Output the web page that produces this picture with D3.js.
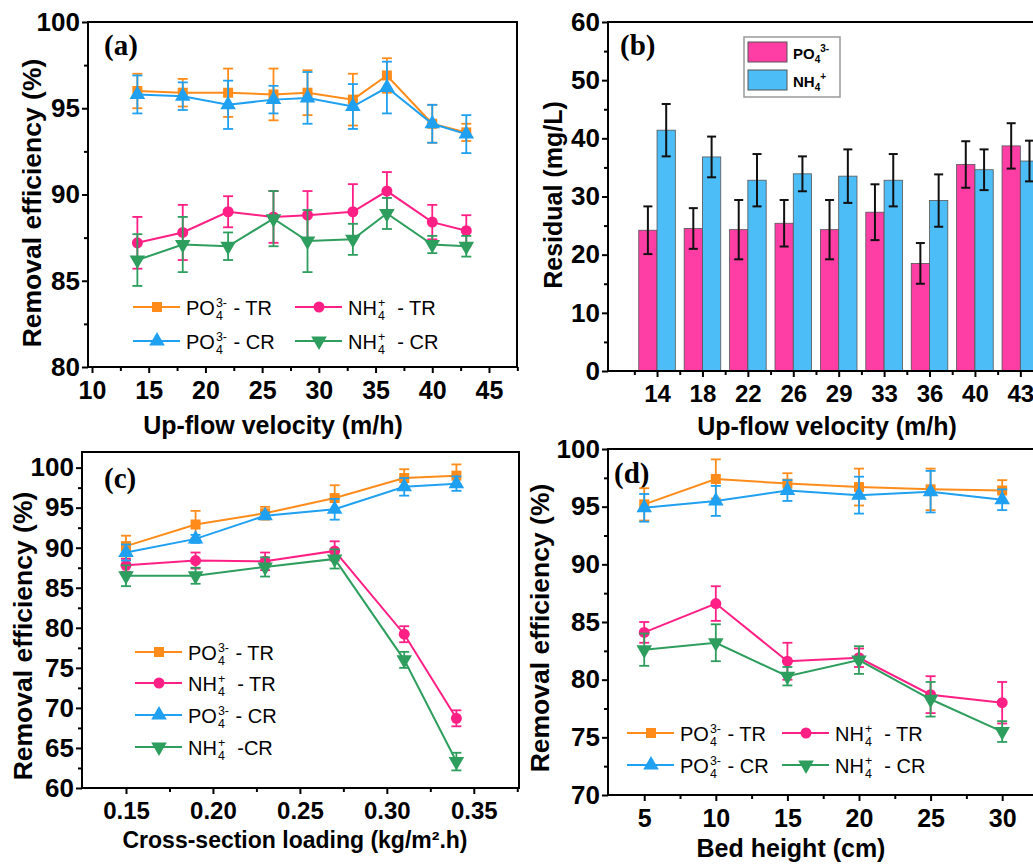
<!DOCTYPE html>
<html>
<head>
<meta charset="utf-8">
<script src="https://cdn.jsdelivr.net/npm/d3@7"></script>
<style>
  body { margin: 0; background: #fff; }
  svg { display: block; }
  text { white-space: pre; }
</style>
</head>
<body>
<svg id="chart" width="1033" height="864"></svg>
<script>
// ---- data ----
// (a) removal efficiency vs up-flow velocity
const velocity = [14, 18, 22, 26, 29, 33, 36, 40, 43];
const aPoTR = [96.0, 95.9, 95.9, 95.8, 95.9, 95.5, 96.9, 94.1, 93.6];
const aPoTRErr = [1.0, 0.8, 1.4, 1.5, 1.3, 1.5, 1.0, 1.1, 0.5];
const aNhTR = [87.2, 87.8, 89.0, 88.7, 88.8, 89.0, 90.2, 88.4, 87.9];
const aNhTRErr = [1.5, 1.6, 0.9, 1.5, 1.4, 1.6, 1.1, 1.0, 0.9];
const aPoCR = [95.8, 95.7, 95.2, 95.5, 95.6, 95.1, 96.2, 94.1, 93.5];
const aPoCRErr = [1.1, 0.8, 1.4, 0.8, 1.5, 1.3, 1.5, 1.1, 1.1];
const aNhCR = [86.2, 87.1, 87.0, 88.6, 87.3, 87.4, 88.9, 87.1, 87.0];
const aNhCRErr = [1.5, 1.6, 0.8, 1.6, 1.8, 0.9, 0.9, 0.5, 0.6];
const aXTicks = [10, 15, 20, 25, 30, 35, 40, 45];
const aYTicks = [80, 85, 90, 95, 100];

// (b) residual concentration
const bPo = [24.2, 24.5, 24.3, 25.4, 24.3, 27.3, 18.5, 35.5, 38.7];
const bPoErr = [4.1, 3.5, 5.1, 4.0, 5.1, 4.8, 3.5, 4.0, 3.9];
const bNh = [41.4, 36.8, 32.8, 33.9, 33.5, 32.8, 29.3, 34.6, 36.1];
const bNhErr = [4.5, 3.5, 4.5, 3.0, 4.6, 4.5, 4.5, 3.5, 3.5];
const bYTicks = [0, 10, 20, 30, 40, 50, 60];

// (c) removal efficiency vs cross-section loading
const loading = [0.15, 0.19, 0.23, 0.27, 0.31, 0.34];
const cPoTR = [90.2, 92.9, 94.3, 96.2, 98.7, 99.0];
const cPoTRErr = [1.3, 1.7, 0.8, 1.6, 1.1, 1.4];
const cNhTR = [87.8, 88.4, 88.3, 89.6, 79.2, 68.7];
const cNhTRErr = [0.8, 1.0, 1.1, 1.2, 1.0, 1.0];
const cPoCR = [89.4, 91.1, 94.0, 94.8, 97.6, 98.0];
const cPoCRErr = [1.0, 0.5, 0.4, 1.3, 1.1, 0.9];
const cNhCR = [86.5, 86.5, 87.6, 88.6, 76.0, 63.3];
const cNhCRErr = [1.3, 1.0, 1.2, 1.2, 1.0, 1.1];
const cXTicks = [0.15, 0.20, 0.25, 0.30, 0.35];
const cYTicks = [60, 65, 70, 75, 80, 85, 90, 95, 100];

// (d) removal efficiency vs bed height
const bedHeight = [5, 10, 15, 20, 25, 30];
const dPoTR = [95.2, 97.4, 97.0, 96.7, 96.5, 96.4];
const dPoTRErr = [1.4, 1.7, 0.9, 1.6, 1.8, 0.9];
const dNhTR = [84.1, 86.6, 81.6, 81.9, 78.7, 78.0];
const dNhTRErr = [0.9, 1.5, 1.6, 0.8, 1.6, 1.8];
const dPoCR = [94.9, 95.5, 96.4, 96.0, 96.3, 95.6];
const dPoCRErr = [1.2, 1.3, 0.9, 1.6, 1.8, 0.9];
const dNhCR = [82.6, 83.2, 80.3, 81.7, 78.3, 75.5];
const dNhCRErr = [1.4, 1.6, 0.8, 1.2, 1.5, 0.9];
const dXTicks = [5, 10, 15, 20, 25, 30];
const dYTicks = [70, 75, 80, 85, 90, 95, 100];

const FONT = "Arial, 'Liberation Sans', Helvetica, sans-serif";
const SERIF = "'Times New Roman', 'Liberation Serif', serif";
const ORANGE = '#FF8C1A', PINK = '#FF1F85', BLUE = '#1FA0F0', GREEN = '#2E9E5E';

const svg = d3.select('#chart');

function minorOf(ticks) {
    const step = ticks[1] - ticks[0];
    const out = [];
    for (let i = -1; i < ticks.length; i++) out.push(ticks[0] + (i + 0.5) * step);
    return out;
}

// axes + frame for one panel
function drawAxes(o, x, y) {
    const g = svg.append('g');
    const bottom = d3.axisBottom(x).tickValues(o.xTicks).tickFormat(o.xFormat)
        .tickSize(6).tickPadding(o.xPad).tickSizeOuter(0);
    const left = d3.axisLeft(y).tickValues(o.yTicks).tickFormat(d3.format('d'))
        .tickSize(6).tickPadding(2).tickSizeOuter(0);
    const xMinor = d3.axisBottom(x).tickValues(o.xMinor.filter(v => x(v) > o.left + 2 && x(v) < 1033))
        .tickFormat('').tickSize(4).tickSizeOuter(0);
    const yMinor = d3.axisLeft(y).tickValues(o.yMinor.filter(v => y(v) < o.bottom - 2 && y(v) > o.top + 2))
        .tickFormat('').tickSize(4).tickSizeOuter(0);

    [[bottom, 'x'], [xMinor, 'x'], [left, 'y'], [yMinor, 'y']].forEach(([ax, k]) => {
        const a = g.append('g')
            .attr('transform', k === 'x' ? `translate(0,${o.bottom})` : `translate(${o.left},0)`)
            .call(ax);
        a.select('.domain').remove();
        a.selectAll('line').attr('stroke', '#000').attr('stroke-width', 2);
        a.selectAll('text').attr('font-family', FONT).attr('font-weight', 'bold')
            .attr('font-size', k === 'x' ? (o.xTickFont || 25) : 26).attr('fill', '#000');
    });

    g.append('rect')
        .attr('x', o.left).attr('y', o.top)
        .attr('width', o.right - o.left).attr('height', o.bottom - o.top)
        .attr('fill', 'none').attr('stroke', '#000').attr('stroke-width', 2);

    svg.append('text')
        .attr('x', o.tagX).attr('y', o.tagY)
        .attr('font-family', SERIF).attr('font-weight', 'bold').attr('font-size', 29)
        .text(o.tag);

    svg.append('text')
        .attr('transform', `translate(${o.yLabelX},${o.yLabelY}) rotate(-90)`)
        .attr('text-anchor', 'middle')
        .attr('font-family', FONT).attr('font-weight', 'bold').attr('font-size', o.yLabelFont || 26.5)
        .text(o.yLabel);

    svg.append('text')
        .attr('x', o.xLabelX).attr('y', o.xLabelY)
        .attr('text-anchor', 'middle')
        .attr('font-family', FONT).attr('font-weight', 'bold').attr('font-size', o.xLabelFont || 25)
        .text(o.xLabel);
}

function symbolPath(kind, size) {
    if (kind === 'square') return d3.symbol(d3.symbolSquare, size)();
    if (kind === 'circle') return d3.symbol(d3.symbolCircle, size)();
    return d3.symbol(d3.symbolTriangle, size)();
}

function marker(g, kind, cx, cy, color) {
    const size = kind === 'square' ? 100 : kind === 'circle' ? 95 : 105;
    g.append('path')
        .attr('d', symbolPath(kind, size))
        .attr('transform', `translate(${cx},${cy})` + (kind === 'down' ? ' rotate(180)' : ''))
        .attr('fill', color);
}

// ion label like PO4(3-) with stacked sub/sup
function ionLabel(g, x, y, base, sub, sup, tail, size) {
    const t = g.append('text').attr('x', x).attr('y', y)
        .attr('font-family', FONT).attr('font-size', size).text(base);
    const w = t.node().getComputedTextLength();
    const s1 = g.append('text').attr('x', x + w + 1).attr('y', y + 5)
        .attr('font-family', FONT).attr('font-size', size * 0.62).text(sub);
    const s2 = g.append('text').attr('x', x + w + 1).attr('y', y - 8)
        .attr('font-family', FONT).attr('font-size', size * 0.62).text(sup);
    const sw = Math.max(s1.node().getComputedTextLength(), s2.node().getComputedTextLength());
    g.append('text').attr('x', x + w + 2 + sw).attr('y', y)
        .attr('font-family', FONT).attr('font-size', size).text(tail);
}

function linePanel(o) {
    const x = d3.scaleLinear().domain(o.xDomain).range([o.left, o.right]);
    const y = d3.scaleLinear().domain(o.yDomain).range([o.bottom, o.top]);
    drawAxes(o, x, y);

    const line = d3.line().x(d => x(d[0])).y(d => y(d[1]));
    o.series.forEach(s => {
        const g = svg.append('g');
        const pts = o.xs.map((v, i) => [v, s.vals[i], s.errs[i]]);
        g.append('path').datum(pts).attr('d', line)
            .attr('fill', 'none').attr('stroke', s.color).attr('stroke-width', 2);
        pts.forEach(p => {
            const cx = x(p[0]);
            g.append('line').attr('x1', cx).attr('x2', cx)
                .attr('y1', y(p[1] - p[2])).attr('y2', y(p[1] + p[2]))
                .attr('stroke', s.color).attr('stroke-width', 1.8);
            [p[1] - p[2], p[1] + p[2]].forEach(v => {
                g.append('line').attr('x1', cx - 5).attr('x2', cx + 5)
                    .attr('y1', y(v)).attr('y2', y(v))
                    .attr('stroke', s.color).attr('stroke-width', 1.8);
            });
            marker(g, s.symbol, cx, y(p[1]), s.color);
        });
    });

    // legend
    const lg = svg.append('g');
    o.legend.forEach((L, i) => {
        const s = o.series[L.idx];
        lg.append('line').attr('x1', L.x).attr('x2', L.x + 47).attr('y1', L.y).attr('y2', L.y)
            .attr('stroke', s.color).attr('stroke-width', 2);
        marker(lg, s.symbol, L.x + 24, L.y, s.color);
        ionLabel(lg, L.x + 53, L.y + 8, L.base, '4', L.sup, L.tail, 20);
    });
}

// ---- panel (a) ----
linePanel({
    left: 88, right: 517, top: 22, bottom: 367,
    xDomain: [9.647, 47.47], yDomain: [80, 100],
    xTicks: aXTicks, xMinor: minorOf(aXTicks), yTicks: aYTicks, yMinor: minorOf(aYTicks),
    xFormat: d3.format('d'), xPad: 8,
    xs: velocity,
    series: [
        { vals: aPoTR, errs: aPoTRErr, color: ORANGE, symbol: 'square' },
        { vals: aNhTR, errs: aNhTRErr, color: PINK, symbol: 'circle' },
        { vals: aPoCR, errs: aPoCRErr, color: BLUE, symbol: 'up' },
        { vals: aNhCR, errs: aNhCRErr, color: GREEN, symbol: 'down' }
    ],
    legend: [
        { idx: 0, x: 133, y: 307, base: 'PO', sup: '3-', tail: ' - TR' },
        { idx: 1, x: 295, y: 307, base: 'NH', sup: '+', tail: '  - TR' },
        { idx: 2, x: 133, y: 341, base: 'PO', sup: '3-', tail: ' - CR' },
        { idx: 3, x: 295, y: 341, base: 'NH', sup: '+', tail: '  - CR' }
    ],
    tag: '(a)', tagX: 104, tagY: 55,
    yLabel: 'Removal efficiency (%)', yLabelX: 41, yLabelY: 203,
    xLabel: 'Up-flow velocity (m/h)', xLabelX: 273, xLabelY: 434
});

// ---- panel (b) ----
(function () {
    const o = {
        left: 608, right: 1088, top: 22, bottom: 371,
        xTicks: d3.range(velocity.length), xMinor: d3.range(velocity.length + 1).map(i => i - 0.5),
        yTicks: bYTicks, yMinor: minorOf(bYTicks),
        xFormat: i => velocity[i], xPad: 8, xTickFont: 24,
        tag: '(b)', tagX: 620, tagY: 55,
        yLabel: 'Residual (mg/L)', yLabelX: 562, yLabelY: 195, yLabelFont: 25,
        xLabel: 'Up-flow velocity (m/h)', xLabelX: 827, xLabelY: 435
    };
    const x = d3.scaleLinear().domain([-1.08, 9.49]).range([o.left, o.right]);
    const y = d3.scaleLinear().domain([0, 60]).range([o.bottom, o.top]);
    const bw = 18.3;

    const groups = [
        { vals: bPo, errs: bPoErr, fill: '#FF3EA5', off: -bw },
        { vals: bNh, errs: bNhErr, fill: '#4DBDF7', off: 0 }
    ];
    groups.forEach(s => {
        const g = svg.append('g');
        g.selectAll('rect').data(s.vals).enter().append('rect')
            .attr('x', (d, i) => x(i) + s.off).attr('width', bw)
            .attr('y', d => y(d)).attr('height', d => y(0) - y(d))
            .attr('fill', s.fill).attr('stroke', '#555').attr('stroke-width', 0.8);
    });
    groups.forEach(s => {
        const g = svg.append('g');
        s.vals.forEach((v, i) => {
            const cx = x(i) + s.off + bw / 2;
            g.append('line').attr('x1', cx).attr('x2', cx)
                .attr('y1', y(v - s.errs[i])).attr('y2', y(v + s.errs[i]))
                .attr('stroke', '#111').attr('stroke-width', 2);
            [v - s.errs[i], v + s.errs[i]].forEach(e => {
                g.append('line').attr('x1', cx - 4.5).attr('x2', cx + 4.5)
                    .attr('y1', y(e)).attr('y2', y(e))
                    .attr('stroke', '#111').attr('stroke-width', 2);
            });
        });
    });
    drawAxes(o, x, y);

    // legend
    const lg = svg.append('g');
    lg.append('rect').attr('x', 744).attr('y', 37).attr('width', 96).attr('height', 60)
        .attr('fill', '#fff').attr('stroke', '#999').attr('stroke-width', 1.5);
    [['PO', '3-', groups[0].fill, 42], ['NH', '+', groups[1].fill, 70]].forEach(r => {
        lg.append('rect').attr('x', 748).attr('y', r[3]).attr('width', 39).attr('height', 20)
            .attr('fill', r[2]).attr('stroke', '#555').attr('stroke-width', 1);
        const t = lg.append('text').attr('x', 793).attr('y', r[3] + 17)
            .attr('font-family', FONT).attr('font-weight', 'bold').attr('font-size', 15);
        t.append('tspan').text(r[0]);
        t.append('tspan').attr('font-size', 10).attr('dy', 4).text('4');
        t.append('tspan').attr('font-size', 10).attr('dy', -11).text(r[1]);
    });
})();

// ---- panel (c) ----
linePanel({
    left: 82, right: 519, top: 452, bottom: 788,
    xDomain: [0.1247, 0.376], yDomain: [60, 101.95],
    xTicks: cXTicks, xMinor: minorOf(cXTicks), yTicks: cYTicks, yMinor: minorOf(cYTicks),
    xFormat: d3.format('.2f'), xPad: 8, xTickFont: 24,
    xs: loading,
    series: [
        { vals: cPoTR, errs: cPoTRErr, color: ORANGE, symbol: 'square' },
        { vals: cNhTR, errs: cNhTRErr, color: PINK, symbol: 'circle' },
        { vals: cPoCR, errs: cPoCRErr, color: BLUE, symbol: 'up' },
        { vals: cNhCR, errs: cNhCRErr, color: GREEN, symbol: 'down' }
    ],
    legend: [
        { idx: 0, x: 135, y: 652, base: 'PO', sup: '3-', tail: ' - TR' },
        { idx: 1, x: 135, y: 683, base: 'NH', sup: '+', tail: '  - TR' },
        { idx: 2, x: 135, y: 715, base: 'PO', sup: '3-', tail: ' - CR' },
        { idx: 3, x: 135, y: 747, base: 'NH', sup: '+', tail: '  -CR' }
    ],
    tag: '(c)', tagX: 104, tagY: 488,
    yLabel: 'Removal efficiency (%)', yLabelX: 32, yLabelY: 636,
    xLabel: 'Cross-section loading (kg/m\u00B2.h)', xLabelX: 295, xLabelY: 848, xLabelFont: 23
});

// ---- panel (d) ----
linePanel({
    left: 608, right: 1050, top: 449, bottom: 795,
    xDomain: [2.47, 33.34], yDomain: [70, 100],
    xTicks: dXTicks, xMinor: minorOf(dXTicks), yTicks: dYTicks, yMinor: minorOf(dYTicks),
    xFormat: d3.format('d'), xPad: 8,
    xs: bedHeight,
    series: [
        { vals: dPoTR, errs: dPoTRErr, color: ORANGE, symbol: 'square' },
        { vals: dNhTR, errs: dNhTRErr, color: PINK, symbol: 'circle' },
        { vals: dPoCR, errs: dPoCRErr, color: BLUE, symbol: 'up' },
        { vals: dNhCR, errs: dNhCRErr, color: GREEN, symbol: 'down' }
    ],
    legend: [
        { idx: 0, x: 627, y: 733, base: 'PO', sup: '3-', tail: ' - TR' },
        { idx: 1, x: 782, y: 733, base: 'NH', sup: '+', tail: '  - TR' },
        { idx: 2, x: 627, y: 765, base: 'PO', sup: '3-', tail: ' - CR' },
        { idx: 3, x: 782, y: 765, base: 'NH', sup: '+', tail: '  - CR' }
    ],
    tag: '(d)', tagX: 614, tagY: 483,
    yLabel: 'Removal efficiency (%)', yLabelX: 549, yLabelY: 628,
    xLabel: 'Bed height (cm)', xLabelX: 791, xLabelY: 857
});
</script>
</body>
</html>
